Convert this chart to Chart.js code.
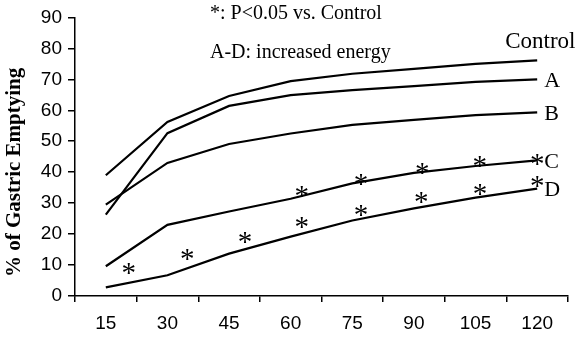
<!DOCTYPE html>
<html>
<head>
<meta charset="utf-8">
<script src="https://cdn.jsdelivr.net/npm/chart.js@4"></script>
<style>
html,body{margin:0;padding:0;background:#fff;}
#wrap{width:583px;height:338px;position:relative;}
</style>
</head>
<body>
<div id="wrap"><canvas id="c" width="583" height="338"></canvas></div>
<script>
// ---- data ----
const timeLabels = ['15','30','45','60','75','90','105','120'];
const controlVals = [39, 56.2, 64.6, 69.4, 71.8, 73.4, 75.0, 76.1];
const aVals       = [26.3, 52.6, 61.4, 64.9, 66.5, 67.8, 69.2, 70.0];
const bVals       = [29.5, 43.0, 49.1, 52.5, 55.3, 56.9, 58.4, 59.3];
const cVals       = [9.6, 23.0, 27.3, 31.4, 36.4, 39.8, 42.0, 43.8];
const dVals       = [2.8, 6.7, 13.7, 19.2, 24.4, 28.3, 31.8, 34.7];
// asterisk marks (x in minutes, y in %)
const cStarX = [62.7, 77.1, 92.0, 106.0, 120.0];
const cStarY = [34.0, 37.7, 41.3, 43.5, 44.4];
const dStarX = [20.6, 34.8, 48.9, 62.7, 77.1, 91.8, 106.1, 120.0];
const dStarY = [8.9, 13.7, 19.2, 23.8, 27.9, 32.0, 34.6, 37.3];
const seriesNames = ['Control','A','B','C','D'];
const noteLines = ['*: P<0.05 vs. Control', 'A-D: increased energy'];
const yTitle = '% of Gastric Emptying';

const serif = '"Liberation Serif", "Times New Roman", serif';
const sans = '"Liberation Sans", Arial, sans-serif';

function line(vals){
  return {type:'line', data:vals, borderColor:'#000', borderWidth:2.2,
          pointRadius:0, tension:0, fill:false, xAxisID:'x', yAxisID:'y'};
}
function stars(xs, ys){
  return {type:'scatter', data:xs.map((x,i)=>({x:x, y:ys[i]})), pointRadius:0,
          xAxisID:'x2', yAxisID:'y', isStars:true};
}

const annot = {
  id:'annot',
  afterDatasetsDraw(chart){
    const ctx = chart.ctx;
    ctx.save();
    ctx.fillStyle = '#000';
    // asterisks
    ctx.font = '29px ' + serif;
    ctx.textAlign = 'center';
    ctx.textBaseline = 'alphabetic';
    chart.data.datasets.forEach((ds, i) => {
      if (!ds.isStars) return;
      chart.getDatasetMeta(i).data.forEach(pt => {
        ctx.fillText('*', pt.x, pt.y + 14);
      });
    });
    // series labels at line ends
    ctx.textAlign = 'left';
    ctx.textBaseline = 'middle';
    for (let i = 0; i < 5; i++) {
      const pts = chart.getDatasetMeta(i).data;
      const p = pts[pts.length - 1];
      if (i === 0) {
        ctx.font = '23px ' + serif;
        ctx.fillText(seriesNames[i], p.x - 32, p.y - 18);
      } else {
        ctx.font = '22px ' + serif;
        ctx.fillText(seriesNames[i], p.x + 7, p.y + 2);
      }
    }
    // notes
    const ca = chart.chartArea;
    ctx.font = '20px ' + serif;
    ctx.textBaseline = 'alphabetic';
    ctx.fillText(noteLines[0], ca.left + 135, 19);
    ctx.fillText(noteLines[1], ca.left + 135, 58);
    // y-axis title
    ctx.save();
    ctx.translate(ca.left - 60, ca.top + 155);
    ctx.rotate(-Math.PI / 2);
    ctx.textAlign = 'center';
    ctx.textBaseline = 'middle';
    ctx.font = 'bold 21px ' + serif;
    ctx.fillText(yTitle, 0, 0);
    ctx.restore();
    ctx.restore();
  }
};

new Chart(document.getElementById('c'), {
  data: {
    labels: timeLabels,
    datasets: [line(controlVals), line(aVals), line(bVals), line(cVals), line(dVals),
               stars(cStarX, cStarY), stars(dStarX, dStarY)]
  },
  options: {
    responsive:false, animation:false,
    layout:{padding:{top:15, right:15, left:0, bottom:0}},
    plugins:{legend:{display:false}, tooltip:{enabled:false}},
    scales:{
      x:{type:'category', offset:true,
         grid:{offset:true, drawOnChartArea:false, drawTicks:true, tickLength:6, color:'#000', lineWidth:1.5},
         border:{color:'#000', width:1.5},
         ticks:{color:'#000', font:{family:sans, size:19}, padding:10, maxRotation:0, autoSkip:false},
         afterFit(s){ s.height = 42; }},
      x2:{type:'linear', display:false, min:7.5, max:127.5},
      y:{min:0, max:90,
         grid:{drawOnChartArea:false, drawTicks:true, tickLength:7, color:'#000', lineWidth:1.5},
         border:{color:'#000', width:1.5},
         ticks:{stepSize:10, color:'#000', font:{family:sans, size:19}, padding:6},
         afterFit(s){ s.width = 75; }}
    }
  },
  plugins:[annot]
});
</script>
</body>
</html>
